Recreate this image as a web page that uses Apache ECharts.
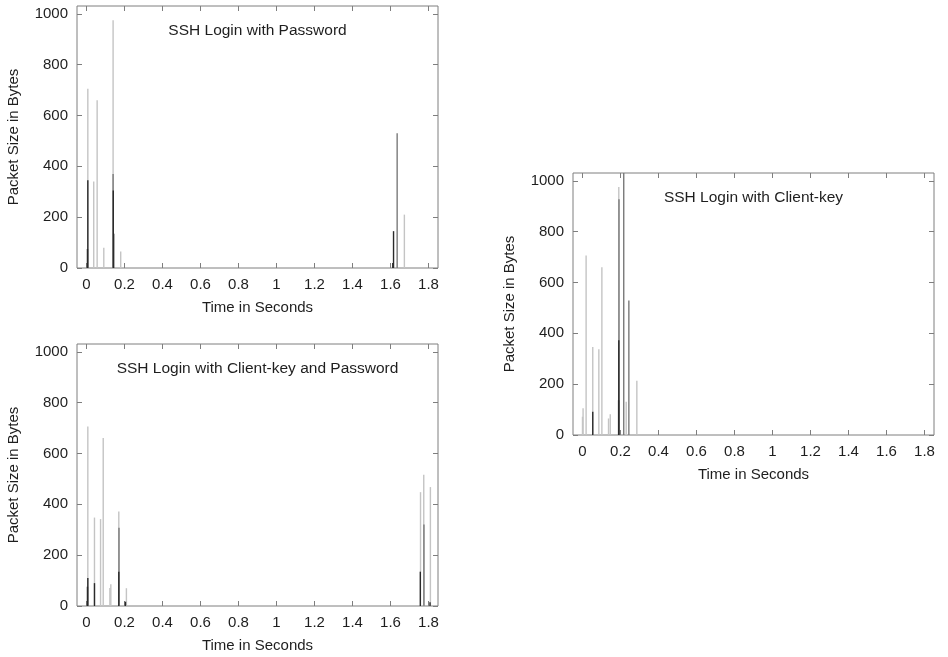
<!DOCTYPE html>
<html>
<head>
<meta charset="utf-8">
<script src="https://cdn.jsdelivr.net/npm/echarts@6/dist/echarts.min.js"></script>
<style>
  html, body { margin: 0; padding: 0; background: #fff; }
  #chart { width: 948px; height: 657px; }
</style>
</head>
<body>
<div id="chart"></div>
<script>
(function (echarts) {
  "use strict";

  // tick positions shared by all three panels
  var xTicks = [0, 0.2, 0.4, 0.6, 0.8, 1, 1.2, 1.4, 1.6, 1.8];
  var yTicks = [0, 200, 400, 600, 800, 1000];

  var titles = [
    'SSH Login with Password',
    'SSH Login with Client-key',
    'SSH Login with Client-key and Password'
  ];

  // [time (s), packet size (bytes)] per shade
  var pwLight = [[0.007, 705], [0.038, 340], [0.056, 660], [0.091, 80], [0.14, 975], [0.18, 65], [1.673, 210]];
  var pwMid = [[0.14, 370], [1.635, 530]];
  var pwDark = [[0.005, 75], [0.007, 345], [0.141, 305], [0.143, 135], [1.612, 20], [1.616, 145]];

  var ckLight = [[0.0, 72], [0.003, 105], [0.019, 706], [0.054, 346], [0.086, 337], [0.102, 660],
    [0.137, 65], [0.146, 82], [0.191, 976], [0.23, 131], [0.286, 213]];
  var ckMid = [[0.192, 928], [0.217, 1400], [0.244, 529]];
  var ckDark = [[0.054, 91], [0.191, 373], [0.19, 137]];

  var kpLight = [[0.007, 706], [0.042, 348], [0.074, 342], [0.088, 661], [0.123, 71], [0.128, 86],
    [0.17, 372], [0.21, 70], [1.758, 448], [1.775, 516], [1.81, 468]];
  var kpMid = [[0.171, 308], [1.776, 321]];
  var kpDark = [[0.005, 76], [0.007, 110], [0.042, 90], [0.17, 135], [0.205, 17], [1.757, 135], [1.808, 15]];

  var panels = [
    { left: 77, top: 6, sets: [pwLight, pwMid, pwDark] },
    { left: 573, top: 173, sets: [ckLight, ckMid, ckDark] },
    { left: 77, top: 344, sets: [kpLight, kpMid, kpDark] }
  ];
  var shades = ['#c4c4c4', '#7a7a7a', '#2a2a2a'];

  var W = 361, H = 262;
  var FONT = 'Liberation Sans';
  var TEXT = '#1e1e1e';
  var FRAME = '#7e7e7e';

  var tick = { show: true, inside: true, length: 5, lineStyle: { color: FRAME, width: 1 } };
  var noLine = { show: false, onZero: false };

  function impulse(params, api) {
    var base = api.coord([api.value(0), 0]);
    var tip = api.coord([api.value(0), api.value(1)]);
    return {
      type: 'line',
      shape: { x1: base[0], y1: base[1], x2: tip[0], y2: tip[1] },
      style: { stroke: api.visual('color'), lineWidth: 1.4 }
    };
  }

  function plain(v) { return String(v); }

  var grid = [], xAxis = [], yAxis = [], series = [], title = [];

  panels.forEach(function (p, i) {
    grid.push({
      left: p.left, top: p.top, width: W, height: H,
      show: true, borderColor: FRAME, borderWidth: 1, backgroundColor: '#fff'
    });

    title.push({
      text: titles[i],
      left: p.left + W / 2, top: p.top + 17, textAlign: 'center', padding: 0,
      textStyle: { fontFamily: FONT, fontSize: 15.5, fontWeight: 'normal', color: TEXT }
    });

    xAxis.push({
      type: 'value', gridIndex: i, position: 'bottom', min: -0.05, max: 1.85,
      name: 'Time in Seconds', nameLocation: 'middle', nameGap: 32,
      nameTextStyle: { fontFamily: FONT, fontSize: 15, color: TEXT },
      axisLine: noLine, splitLine: { show: false },
      axisTick: Object.assign({ customValues: xTicks }, tick),
      axisLabel: { customValues: xTicks, margin: 9, formatter: plain, fontFamily: FONT, fontSize: 15, color: TEXT }
    });
    xAxis.push({
      type: 'value', gridIndex: i, position: 'top', min: -0.05, max: 1.85,
      axisLine: noLine, splitLine: { show: false },
      axisTick: Object.assign({ customValues: xTicks }, tick),
      axisLabel: { show: false }
    });

    yAxis.push({
      type: 'value', gridIndex: i, position: 'left', min: 0, max: 1031,
      name: 'Packet Size in Bytes', nameLocation: 'middle', nameGap: 56,
      nameTextStyle: { fontFamily: FONT, fontSize: 15, color: TEXT },
      axisLine: noLine, splitLine: { show: false },
      axisTick: Object.assign({ customValues: yTicks }, tick),
      axisLabel: { customValues: yTicks, margin: 9, formatter: plain, fontFamily: FONT, fontSize: 15, color: TEXT }
    });
    yAxis.push({
      type: 'value', gridIndex: i, position: 'right', min: 0, max: 1031,
      axisLine: noLine, splitLine: { show: false },
      axisTick: Object.assign({ customValues: yTicks }, tick),
      axisLabel: { show: false }
    });

    p.sets.forEach(function (set, k) {
      series.push({
        type: 'custom',
        xAxisIndex: i * 2, yAxisIndex: i * 2,
        data: set,
        encode: { x: 0, y: 1 },
        clip: true,
        silent: true,
        itemStyle: { color: shades[k] },
        renderItem: impulse,
        z: 2 + k
      });
    });
  });

  var chart = echarts.init(document.getElementById('chart'), null, { renderer: 'canvas' });
  chart.setOption({
    animation: false,
    backgroundColor: '#fff',
    title: title,
    grid: grid,
    xAxis: xAxis,
    yAxis: yAxis,
    series: series
  });
})(echarts);
</script>
</body>
</html>
